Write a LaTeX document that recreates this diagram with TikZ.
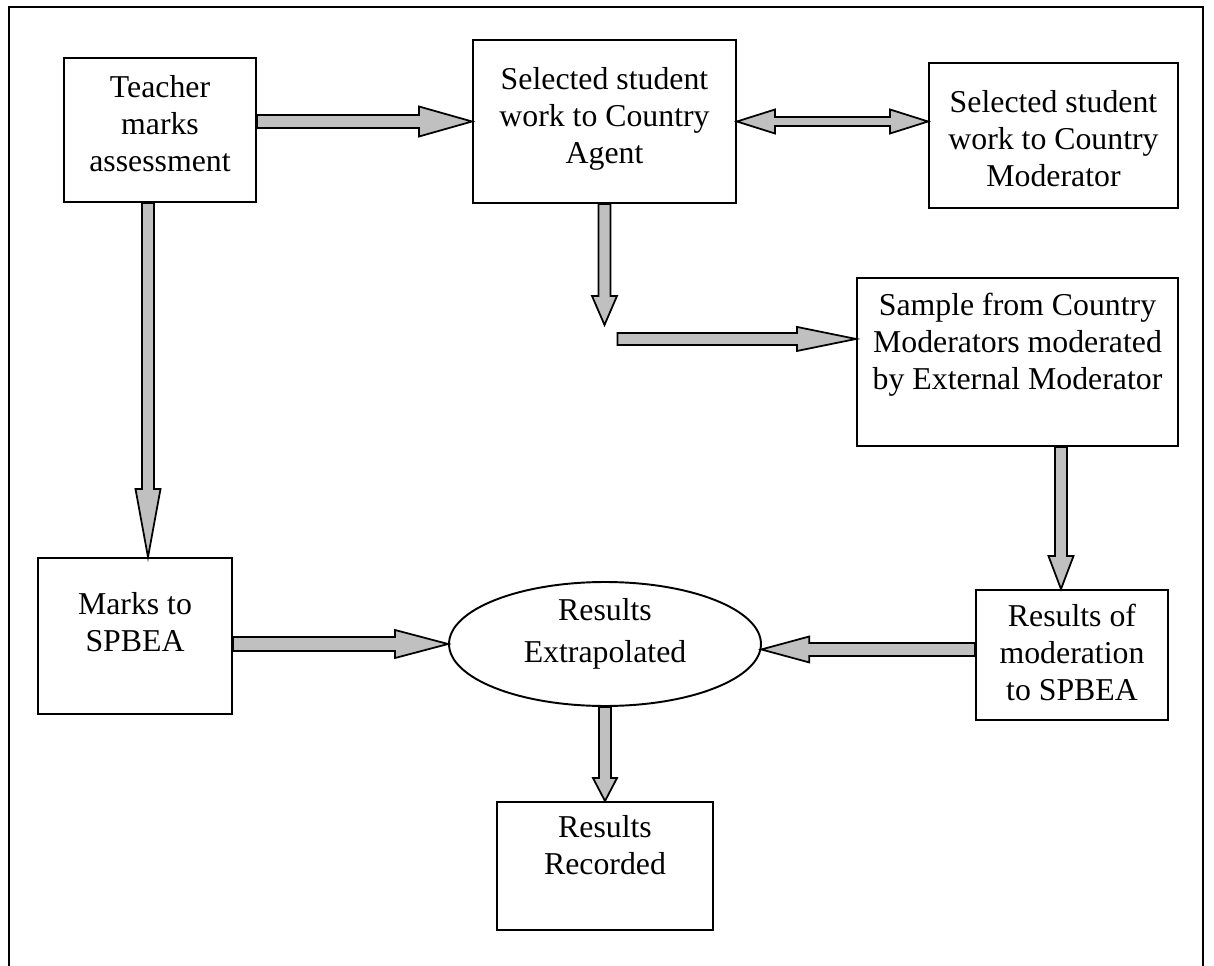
\documentclass[tikz,border=0pt]{standalone}
\usepackage{fontspec}
\setmainfont{Liberation Serif}
\usetikzlibrary{calc,shapes.geometric}
\definecolor{arrowgray}{HTML}{C0C0C0}
\tikzset{
  box/.style={draw=black, line width=1.1pt, fill=white, inner sep=0pt},
  oval/.style={ellipse, draw=black, line width=1.1pt, fill=white, inner sep=0pt},
  txt/.style={align=center, inner sep=0pt, anchor=north, font=\fontsize{18.1}{21}\selectfont},
  ovaltxt/.style={txt, font=\fontsize{18.1}{23.9}\selectfont},
  barrow/.style={draw=black, fill=arrowgray, line width=1pt, line join=miter},
  frameline/.style={draw=black, line width=1.2pt},
}
% #1 start, #2 tip, #3 shaft half width, #4 head half width, #5 head length
\newcommand\blockarrow[5]{%
  \coordinate (hb) at ($(#2)!#5!(#1)$);
  \draw[barrow] ($(#1)!#3!90:(#2)$) -- ($(hb)!#3!90:(#2)$) -- ($(hb)!#4!90:(#2)$)
    -- (#2) -- ($(hb)!#4!-90:(#2)$) -- ($(hb)!#3!-90:(#2)$) -- ($(#1)!#3!-90:(#2)$) -- cycle;
}
\newcommand\doubleblockarrow[5]{%
  \coordinate (hbA) at ($(#1)!#5!(#2)$);
  \coordinate (hbB) at ($(#2)!#5!(#1)$);
  \draw[barrow] (#1) -- ($(hbA)!#4!90:(#2)$) -- ($(hbA)!#3!90:(#2)$)
    -- ($(hbB)!#3!-90:(#1)$) -- ($(hbB)!#4!-90:(#1)$) -- (#2)
    -- ($(hbB)!#4!90:(#1)$) -- ($(hbB)!#3!90:(#1)$)
    -- ($(hbA)!#3!-90:(#2)$) -- ($(hbA)!#4!-90:(#2)$) -- cycle;
}
\begin{document}
\begin{tikzpicture}[x=0.02cm, y=-0.02cm]
\useasboundingbox (0,0) rectangle (1214,966);
\draw[frameline] (9,966) -- (9,7) -- (1203,7) -- (1203,966);

% boxes
\node[box, minimum width=3.84cm, minimum height=2.88cm] (teacher) at (160,130) {};
\node[box, minimum width=5.26cm, minimum height=3.26cm] (agent) at (604.5,121.5) {};
\node[box, minimum width=4.98cm, minimum height=2.90cm] (cmod) at (1053.5,135.5) {};
\node[box, minimum width=6.42cm, minimum height=3.36cm] (sample) at (1017.5,362) {};
\node[box, minimum width=3.88cm, minimum height=3.12cm] (marks) at (135,636) {};
\node[oval, minimum width=6.24cm, minimum height=2.48cm] (ell) at (605,644) {};
\node[box, minimum width=3.84cm, minimum height=2.60cm] (resmod) at (1072,655) {};
\node[box, minimum width=4.32cm, minimum height=2.56cm] (recorded) at (605,866) {};

% texts
\node[txt] (teacher-t) at ($(teacher.north)+(0,18)$) {Teacher\\marks\\assessment};
\node[txt] (agent-t) at ($(agent.north)+(0,28)$) {Selected student\\work to Country\\Agent};
\node[txt] (cmod-t) at ($(cmod.north)+(0,28)$) {Selected student\\work to Country\\Moderator};
\node[txt] (sample-t) at ($(sample.north)+(0,16)$) {Sample from Country\\Moderators moderated\\by External Moderator};
\node[txt] (marks-t) at ($(marks.north)+(0,35)$) {Marks to\\SPBEA};
\node[ovaltxt] (ell-t) at ($(ell.north)+(0,17)$) {Results\\Extrapolated};
\node[txt] (resmod-t) at ($(resmod.north)+(0,15)$) {Results of\\moderation\\to SPBEA};
\node[txt] (recorded-t) at ($(recorded.north)+(0,14)$) {Results\\Recorded};

% connectors
\coordinate (a0) at (teacher.east |- agent.west);
\blockarrow{a0}{agent.west}{0.13cm}{0.30cm}{1.06cm}

\coordinate (b0) at (agent.east);
\coordinate (b1) at (cmod.west |- agent.east);
\doubleblockarrow{b0}{b1}{0.09cm}{0.24cm}{0.76cm}

\coordinate (c1) at ($(agent.south)+(0,121)$);
\blockarrow{agent.south}{c1}{0.12cm}{0.25cm}{0.58cm}

\coordinate (d0) at ($(c1)+(13,14)$);
\coordinate (d1) at (sample.west |- d0);
\blockarrow{d0}{d1}{0.12cm}{0.24cm}{1.18cm}

\coordinate (e0) at ([xshift=-0.24cm]teacher.south);
\coordinate (e1) at (marks.north -| e0);
\blockarrow{e0}{e1}{0.12cm}{0.25cm}{1.36cm}

\coordinate (f0) at (marks.east |- ell.west);
\blockarrow{f0}{ell.west}{0.14cm}{0.28cm}{1.06cm}

\coordinate (g0) at ([xshift=0.87cm]sample.south);
\coordinate (g1) at (resmod.north -| g0);
\blockarrow{g0}{g1}{0.12cm}{0.25cm}{0.66cm}

\coordinate (h1) at (ell.-2.6);
\coordinate (h0) at (resmod.west |- h1);
\blockarrow{h0}{h1}{0.13cm}{0.26cm}{0.96cm}

\blockarrow{ell.south}{recorded.north}{0.12cm}{0.24cm}{0.46cm}
\end{tikzpicture}
\end{document}
